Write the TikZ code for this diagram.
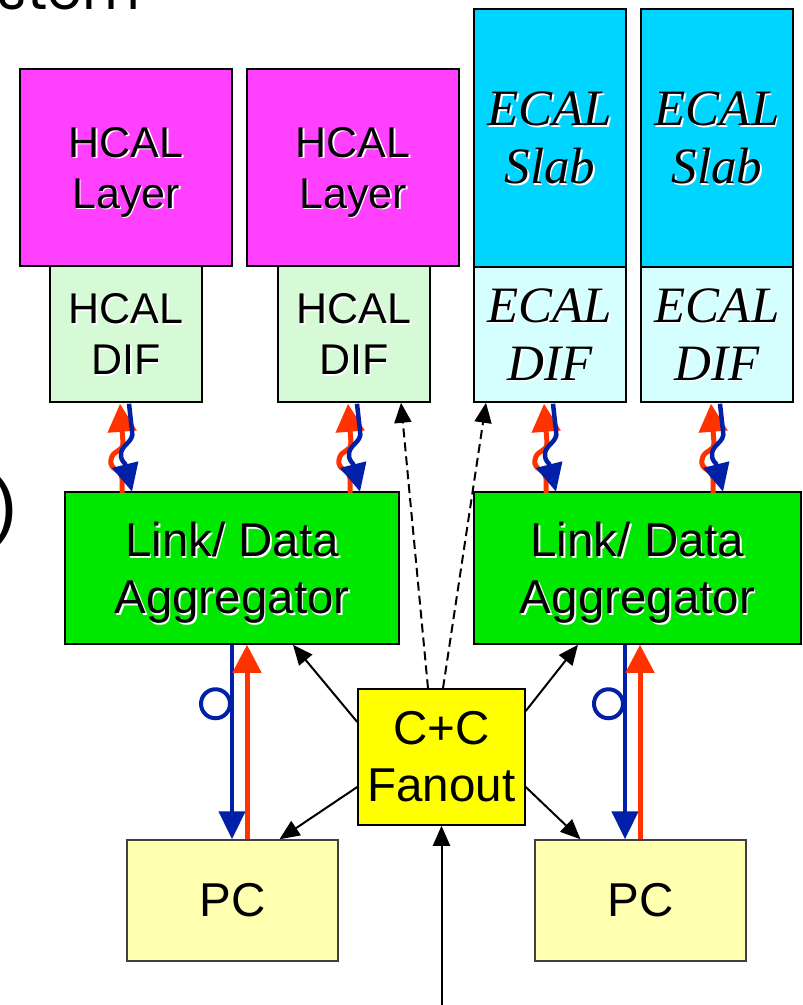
\documentclass[tikz,border=0pt]{standalone}
\usepackage{fontspec}
\setmainfont{Liberation Sans}
\newfontfamily\ecalfont{Liberation Serif}
\newfontfamily\titlefont{Poppins}
\usetikzlibrary{arrows.meta,calc}

\definecolor{layermag}{HTML}{FF40FF}
\definecolor{hdifgreen}{HTML}{D5FAD5}
\definecolor{slabcyan}{HTML}{00D5FF}
\definecolor{edifcyan}{HTML}{D5FFFF}
\definecolor{agggreen}{HTML}{00E800}
\definecolor{fanyellow}{HTML}{FFFF00}
\definecolor{pcyellow}{HTML}{FFFFB0}
\definecolor{linkred}{HTML}{FF3300}
\definecolor{linkblue}{HTML}{0020A8}

% text line with a light drop shadow; descenders do not count for centring
\newcommand\shd[1]{\raisebox{0pt}[\height][0pt]{\makebox[0pt][l]{\hspace{1.6pt}\raisebox{-1.6pt}{\color{white}#1}}#1}}

\tikzset{
  box/.style={draw=black, line width=1.5pt, inner sep=0pt, align=center},
  hfont/.style={font=\fontsize{43}{51}\selectfont},
  bigfont/.style={font=\fontsize{47.5}{57}\selectfont},
  efont/.style={font=\ecalfont\itshape\fontsize{51}{58}\selectfont},
  ctl/.style={draw=black, line width=2pt, -{Triangle[length=20pt,width=17pt]}},
  ctldash/.style={ctl, dash pattern=on 9pt off 5pt},
  upred/.style={draw=linkred, line width=5pt, -{Triangle[length=28pt,width=28pt]}},
  downblue/.style={draw=linkblue, line width=4.5pt, -{Triangle[length=28pt,width=26pt]}},
  loopring/.style={draw=linkblue, line width=4pt},
}

% pair of wavy links below a DIF (frame: origin at the DIF's bottom edge, y downwards)
\newcommand\wavepair[1]{%
  \begin{scope}[shift={(#1.south)}]
    \draw[upred] (-4,90) -- (-4,76) .. controls (-4,66) and (-17,68) .. (-15,57)
      .. controls (-13,46) and (-3,50) .. (-3,40) -- (-6,1);
    \draw[downblue] (3,1) -- (6,28) .. controls (9,40) and (-7,42) .. (-5,54)
      .. controls (-4,58) and (-2,60) .. (-1,61) -- (6,89);
  \end{scope}}

\begin{document}
\begin{tikzpicture}[x=1pt,y=-1pt]
\useasboundingbox (0,0) rectangle (803,1005);
\fill[white] (0,0) rectangle (803,1005);

% fragments of surrounding slide text
\node[font=\titlefont\fontsize{56}{60}\selectfont, anchor=base east, inner sep=0pt] (ttl) at (140,9) {System};
\node[font=\fontsize{75}{80}\selectfont, anchor=base west, inner sep=0pt] (par) at (-8,530) {)};

% HCAL
\node[box, fill=layermag, minimum width=212pt, minimum height=197pt, hfont] (hl1) at (126,167.5) {\shd{HCAL}\\\shd{Layer}};
\node[box, fill=hdifgreen, minimum width=152pt, minimum height=136pt, hfont] (hd1) at (126,334) {\shd{HCAL}\\\shd{DIF}};
\node[box, fill=layermag, minimum width=212pt, minimum height=197pt, hfont] (hl2) at (353,167.5) {\shd{HCAL}\\\shd{Layer}};
\node[box, fill=hdifgreen, minimum width=152pt, minimum height=136pt, hfont] (hd2) at (354,334) {\shd{HCAL}\\\shd{DIF}};

% ECAL
\node[box, fill=slabcyan, minimum width=152pt, minimum height=258pt, efont] (es1) at (550,138) {\shd{ECAL}\\\shd{Slab}};
\node[box, fill=edifcyan, minimum width=152pt, minimum height=135pt, efont] (ed1) at (550,334.5) {\shd{ECAL}\\\shd{DIF}};
\node[box, fill=slabcyan, minimum width=152pt, minimum height=258pt, efont] (es2) at (717,138) {\shd{ECAL}\\\shd{Slab}};
\node[box, fill=edifcyan, minimum width=152pt, minimum height=135pt, efont] (ed2) at (717,334.5) {\shd{ECAL}\\\shd{DIF}};

% aggregators, fanout, PCs
\node[box, fill=agggreen, minimum width=334pt, minimum height=152pt, bigfont] (ag1) at (232,568) {\shd{Link/ Data}\\\shd{Aggregator}};
\node[box, fill=agggreen, minimum width=327pt, minimum height=152pt, bigfont] (ag2) at (637.5,568) {\shd{Link/ Data}\\\shd{Aggregator}};
\node[box, fill=fanyellow, minimum width=167pt, minimum height=136pt, bigfont] (fan) at (441.5,757) {C+C\\Fanout};
\node[box, draw=black!75, fill=pcyellow, minimum width=211pt, minimum height=121pt, bigfont] (pc1) at (232.5,900.5) {PC};
\node[box, draw=black!75, fill=pcyellow, minimum width=211pt, minimum height=121pt, bigfont] (pc2) at (640.5,900.5) {PC};

% DIF <-> aggregator links
\wavepair{hd1}
\wavepair{hd2}
\wavepair{ed1}
\wavepair{ed2}

% aggregator <-> PC links
\coordinate (b1t) at ([xshift=0pt]ag1.south);
\coordinate (b1b) at (b1t |- pc1.north);
\coordinate (r1t) at ([xshift=15pt]ag1.south);
\coordinate (r1b) at (r1t |- pc1.north);
\coordinate (b2t) at ([xshift=-12.5pt]ag2.south);
\coordinate (b2b) at (b2t |- pc2.north);
\coordinate (r2t) at ([xshift=2.5pt]ag2.south);
\coordinate (r2b) at (r2t |- pc2.north);
\draw[downblue] (b1t) -- (b1b);
\draw[upred] (r1b) -- (r1t);
\draw[downblue] (b2t) -- (b2b);
\draw[upred] (r2b) -- (r2t);
\draw[loopring] ([xshift=-16.5pt,yshift=-59pt]b1t) circle[radius=14.5pt];
\draw[loopring] ([xshift=-16.5pt,yshift=-59pt]b2t) circle[radius=14.5pt];

% clock and control fanout
\coordinate (ccin) at ([yshift=-181pt]fan.south);
\draw[ctl] (ccin) -- (fan.south);
\draw[ctl] ([yshift=35pt]fan.west) -- ([xshift=61pt]ag1.south);
\draw[ctl] ([yshift=46pt]fan.east) -- ([xshift=-59.5pt]ag2.south);
\draw[ctl] ([yshift=-30pt]fan.west) -- ([xshift=47pt]pc1.north);
\draw[ctl] ([yshift=-30pt]fan.east) -- ([xshift=-60pt]pc2.north);
\draw[ctldash] ([xshift=-13.5pt]fan.north) -- ([xshift=47pt]hd2.south);
\draw[ctldash] ([xshift=1.5pt]fan.north) -- ([xshift=-64pt]ed1.south);
\end{tikzpicture}
\end{document}
